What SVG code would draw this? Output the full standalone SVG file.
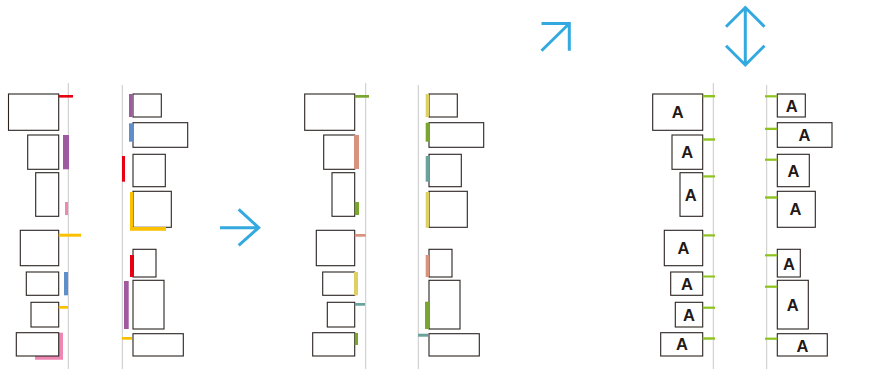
<svg xmlns="http://www.w3.org/2000/svg" width="886" height="369" viewBox="0 0 886 369">
<style>
.bx{fill:#fff;stroke:#2a2320;stroke-width:1.1}
.gl{stroke:#c9c9c9;stroke-width:1;fill:none}
.ar{stroke:#33a9e0;stroke-width:3;fill:none;stroke-linecap:butt}
.a{font-family:"Liberation Sans",Arial,sans-serif;font-weight:bold;font-size:16.5px;fill:#231815;text-anchor:middle}
.red{fill:#e60012}.pur{fill:#a05aa0}.pnk{fill:#ef86b3}.yel{fill:#fbc000}.blu{fill:#5f8fca}
.grn{fill:#7aa52f}.sal{fill:#d9927e}.ylw{fill:#ded163}.tea{fill:#6aa39c}.tk{fill:#8dc21f}
</style>
<rect width="886" height="369" fill="#fff"/>
<g id="guides">
<line class="gl" x1="68.3" y1="83" x2="68.3" y2="369"/>
<line class="gl" x1="122.3" y1="85" x2="122.3" y2="369"/>
<line class="gl" x1="365.7" y1="83" x2="365.7" y2="369"/>
<line class="gl" x1="418.3" y1="85" x2="418.3" y2="369"/>
<line class="gl" x1="713.3" y1="83" x2="713.3" y2="369"/>
<line class="gl" x1="766.7" y1="85" x2="766.7" y2="369"/>
</g>
<g id="connectors">
<path class="ar" d="M220,227.7 H258 M238.7,209.3 L258.7,227.7 L238.7,245.3"/>
<path class="ar" d="M541.5,23.5 H569.3 V50.7 M541.5,50.7 L569.3,23.5"/>
<path class="ar" d="M745.3,7.5 V65.5 M726,26.7 L745.3,7.5 L764.5,26.7 M726,45.7 L745.3,65 L764.5,45.7"/>
</g>
<g id="p1-left">
<g id="p1l1"><rect class="bx" x="8.5" y="94" width="50.2" height="36.3"/><rect class="red" x="58.7" y="95" width="14.3" height="2.6"/></g>
<g id="p1l2"><rect class="bx" x="27.7" y="135" width="31" height="34.3"/><rect class="pur" x="63" y="135" width="6" height="34.3"/></g>
<g id="p1l3"><rect class="bx" x="35.7" y="172.7" width="23" height="43.6"/><rect class="pnk" x="65" y="202" width="3" height="13"/></g>
<g id="p1l4"><rect class="bx" x="20.3" y="230.3" width="38.4" height="35.4"/><rect class="yel" x="58.7" y="233.7" width="22.3" height="3"/></g>
<g id="p1l5"><rect class="bx" x="26.3" y="272" width="32.4" height="23.3"/><rect class="blu" x="64" y="272" width="4" height="23.3"/></g>
<g id="p1l6"><rect class="bx" x="31" y="302.3" width="27.7" height="24.7"/><rect class="yel" x="58.7" y="306" width="9.3" height="2.7"/></g>
<g id="p1l7"><path class="pnk" d="M59,332.7 H63 V359.7 H35 V356 H59 Z"/><rect class="bx" x="16.3" y="332.7" width="42.4" height="23.3"/></g>
</g>
<g id="p1-right">
<g id="p1r1"><rect class="bx" x="133" y="94" width="28.3" height="23"/><rect class="pur" x="129" y="94" width="3.5" height="23"/></g>
<g id="p1r2"><rect class="bx" x="133" y="122.7" width="54.7" height="24.6"/><rect class="blu" x="129" y="123.3" width="4" height="18.4"/></g>
<g id="p1r3"><rect class="bx" x="133" y="154.3" width="32.3" height="32.4"/><rect class="red" x="122" y="156" width="3" height="25.7"/></g>
<g id="p1r4"><rect class="bx" x="133" y="191.3" width="38.3" height="36"/><path class="yel" d="M130,192 H133 V227 H166 V230.7 H130 Z"/></g>
<g id="p1r5"><rect class="bx" x="133" y="249.3" width="23" height="27.7"/><rect class="red" x="130" y="255" width="4" height="22"/></g>
<g id="p1r6"><rect class="bx" x="133" y="280.3" width="31" height="48.7"/><rect class="pur" x="124" y="281" width="4.7" height="48"/></g>
<g id="p1r7"><rect class="bx" x="133" y="333.7" width="50.3" height="22.3"/><rect class="yel" x="122" y="337" width="10" height="2.7"/></g>
</g>
<g id="p2-left">
<g id="p2l1"><rect class="bx" x="304.7" y="94" width="50" height="36.3"/><rect class="grn" x="354.7" y="95" width="14.3" height="2.7"/></g>
<g id="p2l2"><rect class="bx" x="323.7" y="135" width="31" height="34.3"/><rect class="sal" x="354" y="135" width="5" height="34"/></g>
<g id="p2l3"><rect class="bx" x="332" y="172.7" width="22.7" height="43.6"/><rect class="grn" x="354.7" y="202" width="4.3" height="13"/></g>
<g id="p2l4"><rect class="bx" x="316.3" y="230.3" width="38.4" height="35.4"/><rect class="sal" x="354.7" y="234" width="11" height="2.7"/></g>
<g id="p2l5"><rect class="bx" x="322.7" y="272" width="32" height="23.3"/><rect class="ylw" x="354" y="272" width="4" height="23.3"/></g>
<g id="p2l6"><rect class="bx" x="327.3" y="302.3" width="27.4" height="24.7"/><rect class="tea" x="354.7" y="303" width="10.3" height="2.7"/></g>
<g id="p2l7"><rect class="bx" x="312.7" y="332.7" width="42" height="23.3"/><rect class="grn" x="354.7" y="333" width="3.3" height="12"/></g>
</g>
<g id="p2-right">
<g id="p2r1"><rect class="bx" x="429" y="94" width="28.3" height="23"/><rect class="ylw" x="425.7" y="94" width="3.3" height="23"/></g>
<g id="p2r2"><rect class="bx" x="429" y="122.7" width="54.7" height="24.6"/><rect class="grn" x="425.7" y="122.7" width="3.8" height="19"/></g>
<g id="p2r3"><rect class="bx" x="429" y="154.3" width="32.3" height="32.4"/><rect class="tea" x="425.7" y="156" width="3.3" height="25.7"/></g>
<g id="p2r4"><rect class="bx" x="429" y="191.3" width="38.3" height="36"/><rect class="ylw" x="425.7" y="192" width="3.3" height="35.7"/></g>
<g id="p2r5"><rect class="bx" x="429" y="249.3" width="23" height="27.7"/><rect class="sal" x="425.7" y="255" width="3.3" height="22"/></g>
<g id="p2r6"><rect class="bx" x="429" y="280.3" width="31" height="48.7"/><rect class="grn" x="425" y="301.7" width="4" height="27.3"/></g>
<g id="p2r7"><rect class="bx" x="429" y="333.7" width="50.3" height="22.3"/><rect class="tea" x="418" y="333.7" width="10" height="3"/></g>
</g>
<g id="p3-left">
<g id="p3l1"><rect class="bx" x="652.7" y="94" width="50" height="36.3"/><rect class="tk" x="702.7" y="95" width="12.3" height="2.4"/><text class="a" x="677.7" y="118.2">A</text></g>
<g id="p3l2"><rect class="bx" x="672" y="135" width="30.7" height="34.3"/><rect class="tk" x="702.7" y="138.3" width="12.3" height="2.4"/><text class="a" x="687.3" y="158.2">A</text></g>
<g id="p3l3"><rect class="bx" x="680" y="172.7" width="22.7" height="43.6"/><rect class="tk" x="702.7" y="175.3" width="12.3" height="2.2"/><text class="a" x="690.7" y="200.5">A</text></g>
<g id="p3l4"><rect class="bx" x="664.3" y="230.3" width="38.4" height="35.4"/><rect class="tk" x="702.7" y="234.3" width="12.3" height="2.2"/><text class="a" x="683.5" y="254">A</text></g>
<g id="p3l5"><rect class="bx" x="670.7" y="272" width="32" height="23.3"/><rect class="tk" x="702.7" y="275.5" width="12.3" height="2"/><text class="a" x="686.9" y="289.6">A</text></g>
<g id="p3l6"><rect class="bx" x="675.3" y="302.3" width="27.4" height="24.7"/><rect class="tk" x="702.7" y="306.6" width="12.3" height="2.2"/><text class="a" x="689" y="320.6">A</text></g>
<g id="p3l7"><rect class="bx" x="660.7" y="332.7" width="42" height="23.3"/><rect class="tk" x="702.7" y="337.3" width="12.3" height="2.4"/><text class="a" x="682" y="350.3">A</text></g>
</g>
<g id="p3-right">
<g id="p3r1"><rect class="bx" x="777.3" y="94" width="28" height="23"/><rect class="tk" x="765" y="95.2" width="12.3" height="2.2"/><text class="a" x="791.6" y="111.5">A</text></g>
<g id="p3r2"><rect class="bx" x="777.3" y="122.7" width="54.7" height="24.6"/><rect class="tk" x="765" y="127.7" width="12.3" height="2.3"/><text class="a" x="804.5" y="141">A</text></g>
<g id="p3r3"><rect class="bx" x="777.3" y="154.3" width="32" height="32.4"/><rect class="tk" x="765" y="158.6" width="12.3" height="2.2"/><text class="a" x="793.4" y="176.5">A</text></g>
<g id="p3r4"><rect class="bx" x="777.3" y="191.3" width="38" height="36"/><rect class="tk" x="765" y="196.3" width="12.3" height="2.4"/><text class="a" x="795.4" y="215.3">A</text></g>
<g id="p3r5"><rect class="bx" x="777.3" y="249.3" width="23" height="27.7"/><rect class="tk" x="765" y="254.2" width="12.3" height="2.2"/><text class="a" x="789" y="269.5">A</text></g>
<g id="p3r6"><rect class="bx" x="777.3" y="280.3" width="31" height="48.7"/><rect class="tk" x="765" y="285.6" width="12.3" height="2.2"/><text class="a" x="792.8" y="310.7">A</text></g>
<g id="p3r7"><rect class="bx" x="777.3" y="333.7" width="50" height="22.3"/><rect class="tk" x="765" y="337.6" width="12.3" height="2.2"/><text class="a" x="802.5" y="351.9">A</text></g>
</g>
</svg>
